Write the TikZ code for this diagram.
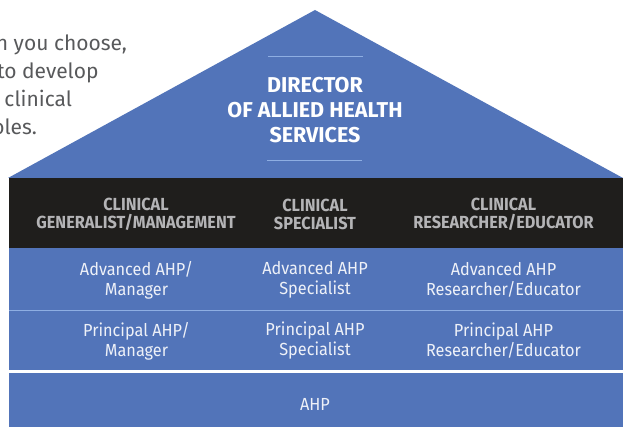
\documentclass[tikz,border=0pt]{standalone}
\usepackage{fontspec}
\setmainfont{Fira Sans}
\newfontfamily\condfont[FakeStretch=0.93]{Fira Sans}
\definecolor{roofblue}{HTML}{5274B9}
\definecolor{bandblack}{HTML}{1F1E1C}
\definecolor{headgray}{HTML}{B4B4B6}
\definecolor{rowtext}{HTML}{EEF1F8}
\definecolor{paratext}{HTML}{58595B}
\definecolor{thinline}{HTML}{8EAEE2}
\begin{document}
\begin{tikzpicture}[x=1pt,y=-1pt,
  every node/.style={inner sep=0pt,outer sep=0pt},
  para/.style={anchor=base east,text=paratext,font=\fontsize{21}{28}\selectfont},
  director/.style={align=center,text=white,font=\fontsize{21.5}{25}\selectfont\bfseries},
  header/.style={align=center,text=headgray,font=\condfont\fontsize{17.5}{18}\selectfont\bfseries},
  celltext/.style={align=center,text=rowtext,font=\condfont\fontsize{17.5}{20}\selectfont}]
\useasboundingbox (0,0) rectangle (627,427);
% paragraph at the left, cut by the page edge
\node[para] (p1) at (127,51) {n you choose,};
\node[para] (p2) at (98.5,79) {to develop};
\node[para] (p3) at (72,107) {clinical};
\node[para] (p4) at (37,135) {oles.};
% roof
\coordinate (rl) at (8,178);
\coordinate (apex) at (315,10);
\coordinate (rr) at (623,178);
\fill[roofblue] (rl) -- (apex) -- (rr) -- cycle;
\coordinate (l1a) at (268,57); \coordinate (l1b) at (363,57);
\coordinate (l2a) at (267,161); \coordinate (l2b) at (362,161);
\draw[thinline,line width=1pt] (l1a) -- (l1b);
\draw[thinline,line width=1pt] (l2a) -- (l2b);
\node[director] (dir) at (315,110) {DIRECTOR\\OF ALLIED HEALTH\\SERVICES};
% header band
\fill[bandblack] (9,178) rectangle (623,248);
\node[header] (h1) at (136,214) {CLINICAL\\GENERALIST/MANAGEMENT};
\node[header] (h2) at (315,214) {CLINICAL\\SPECIALIST};
\node[header] (h3) at (503.5,214) {CLINICAL\\RESEARCHER/EDUCATOR};
% rows
\fill[roofblue] (9,248) rectangle (623,427);
\coordinate (s1a) at (9,310.5); \coordinate (s1b) at (623,310.5);
\draw[thinline,line width=1pt] (s1a) -- (s1b);
\coordinate (s2a) at (9,371.5); \coordinate (s2b) at (623,371.5);
\draw[white,line width=2.5pt] (s2a) -- (s2b);
\node[celltext] (a1) at (136.5,280) {Advanced AHP/\\Manager};
\node[celltext] (a2) at (315,280) {Advanced AHP\\Specialist};
\node[celltext] (a3) at (503.5,280) {Advanced AHP\\Researcher/Educator};
\node[celltext] (b1) at (136.5,341) {Principal AHP/\\Manager};
\node[celltext] (b2) at (315,341) {Principal AHP\\Specialist};
\node[celltext] (b3) at (503.5,341) {Principal AHP\\Researcher/Educator};
\node[celltext] (c2) at (315,404) {AHP};
\end{tikzpicture}
\end{document}
